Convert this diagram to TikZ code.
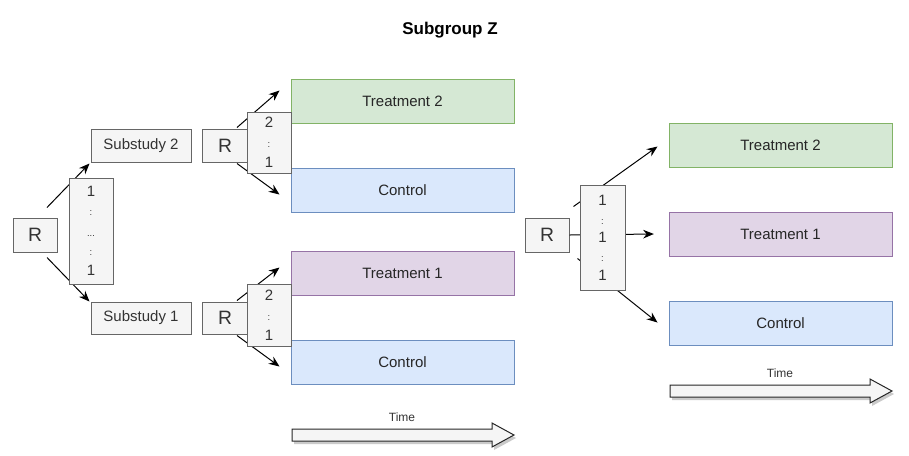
\documentclass[tikz,border=0pt]{standalone}
\usepackage{fontspec}
\setmainfont{Liberation Sans}
\usetikzlibrary{arrows.meta,calc}
\definecolor{gfill}{HTML}{F5F5F5}
\definecolor{gline}{HTML}{666666}
\definecolor{gtext}{HTML}{333333}
\definecolor{greenfill}{HTML}{D5E8D4}
\definecolor{greenline}{HTML}{82B366}
\definecolor{bluefill}{HTML}{DAE8FC}
\definecolor{blueline}{HTML}{6C8EBF}
\definecolor{purplefill}{HTML}{E1D5E7}
\definecolor{purpleline}{HTML}{9673A6}
\newcommand{\colonline}{{\fontsize{7}{7}\selectfont :}}
\newcommand{\dotsline}{{\fontsize{7}{7}\selectfont ...}}
\begin{document}
\begin{tikzpicture}[x=0.75pt,y=-0.75pt,
  box/.style={draw=gline, fill=gfill, text=gtext, inner sep=0pt, line width=0.75pt,
    font=\fontsize{11.25}{15}\selectfont},
  rbox/.style={box, font=\fontsize{14.5}{16}\selectfont},
  ratio/.style={box, align=center, minimum width=44*0.75pt},
  tbox/.style={draw, inner sep=0pt, line width=0.75pt, minimum width=223*0.75pt,
    minimum height=44*0.75pt, text=black!85, font=\fontsize{11.25}{15}\selectfont},
  green/.style={tbox, fill=greenfill, draw=greenline},
  blue/.style={tbox, fill=bluefill, draw=blueline},
  purple/.style={tbox, fill=purplefill, draw=purpleline},
  conn/.style={-{Stealth[length=8pt,width=6.5pt]}, line width=0.75pt, black},
  timearrow/.style={fill=gfill, draw=black!85, line width=0.75pt},
  timeshadow/.style={fill=black!35, draw=none, opacity=0.6},
  timelabel/.style={text=gtext, font=\fontsize{9}{10}\selectfont}
]
\useasboundingbox (0,0) rectangle (909,455);

\node[font=\bfseries\fontsize{12.75}{14}\selectfont] (title) at (450,30) {Subgroup Z};

% left part
\node[rbox, minimum width=44*0.75pt, minimum height=34*0.75pt] (R1) at (35,235) {R};
\node[box, minimum width=100*0.75pt, minimum height=33*0.75pt] (S2) at (141,145.5) {Substudy 2};
\node[box, minimum width=100*0.75pt, minimum height=32*0.75pt] (S1) at (141,318) {Substudy 1};
\draw[conn] ([shift={(12,-10)}]R1.north) -- ([shift={(-1,1)}]S2.south west);
\draw[conn] ([shift={(12,5)}]R1.south) -- ([shift={(-1,0)}]S1.north west);
\node[ratio, minimum height=106*0.75pt] (L1) at (91,231)
  {1\\[-1pt]\colonline\\[1pt]\dotsline\\[-1pt]\colonline\\[0pt]1};

% middle treatment boxes
\node[green] (T2) at (402.5,101) {Treatment 2};
\node[blue] (C1) at (402.5,190) {Control};
\node[purple] (T1) at (402.5,273) {Treatment 1};
\node[blue] (C2) at (402.5,362) {Control};

% middle upper randomisation
\node[rbox, minimum width=46*0.75pt, minimum height=33*0.75pt] (Ra) at (225,145.5) {R};
\draw[conn] ([shift={(12,-1)}]Ra.north) -- ([shift={(-11,12)}]T2.north west);
\draw[conn] ([shift={(12,1)}]Ra.south) -- ([shift={(-11,27)}]C1.north west);
\node[ratio, minimum height=61*0.75pt] (Ua) at (269,142.5)
  {2\\[0pt]\colonline\\[0pt]1};

% middle lower randomisation
\node[rbox, minimum width=46*0.75pt, minimum height=32*0.75pt] (Rb) at (225,318) {R};
\draw[conn] ([shift={(12,-1)}]Rb.north) -- ([shift={(-11,17)}]T1.north west);
\draw[conn] ([shift={(12,1)}]Rb.south) -- ([shift={(-11,27)}]C2.north west);
\node[ratio, minimum height=62*0.75pt] (Ub) at (269,315)
  {2\\[0pt]\colonline\\[0pt]1};

% right part
\node[green] (T2r) at (780.5,145) {Treatment 2};
\node[purple] (T1r) at (780.5,234) {Treatment 1};
\node[blue] (Cr) at (780.5,323) {Control};
\node[rbox, minimum width=44*0.75pt, minimum height=34*0.75pt] (Rr) at (547,235) {R};
\draw[conn] ([shift={(4,-11)}]Rr.north east) -- ([shift={(-11,24)}]T2r.north west);
\draw[conn] (Rr.east) -- ([xshift=-11]T1r.west);
\draw[conn] ([shift={(8,6)}]Rr.south east) -- ([shift={(-11,22)}]Cr.north west);
\node[ratio, minimum width=45*0.75pt, minimum height=105*0.75pt] (Rt) at (602.5,237.5)
  {1\\[-1pt]\colonline\\[-1pt]1\\[-1pt]\colonline\\[-1pt]1};

% time arrows
\begin{scope}[shift={(2,3)}]
  \fill[timeshadow] (292,429) -- (492,429) -- (492,423) -- (514,435) -- (492,447) -- (492,441) -- (292,441) -- cycle;
  \fill[timeshadow] (670,385) -- (870,385) -- (870,379) -- (892,391) -- (870,403) -- (870,397) -- (670,397) -- cycle;
\end{scope}
\draw[timearrow] (292,429) -- (492,429) -- (492,423) -- (514,435) -- (492,447) -- (492,441) -- (292,441) -- cycle;
\node[timelabel] (time1) at (402,417) {Time};
\draw[timearrow] (670,385) -- (870,385) -- (870,379) -- (892,391) -- (870,403) -- (870,397) -- (670,397) -- cycle;
\node[timelabel] (time2) at (780,373) {Time};
\end{tikzpicture}
\end{document}
